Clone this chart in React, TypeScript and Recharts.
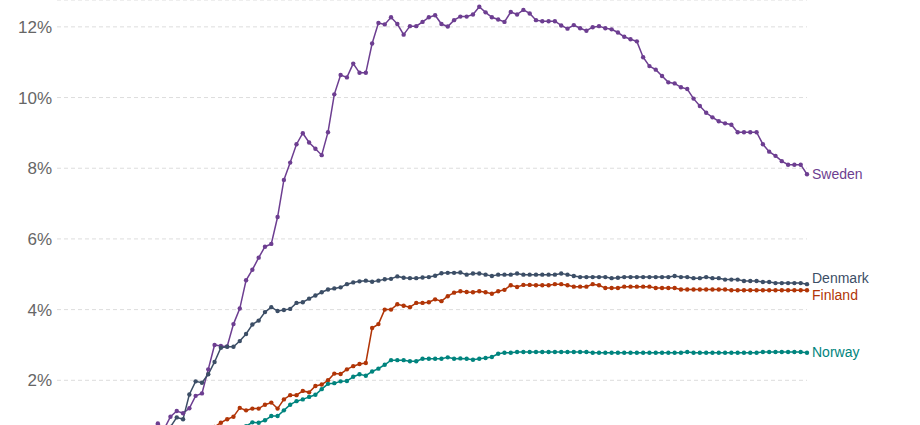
import React from "react";
import { LineChart, Line, XAxis, YAxis, CartesianGrid, LabelList } from "recharts";

// monthly share, 2010–2019 (x axis is cut off below the picture)
const years = [2010, 2011, 2012, 2013, 2014, 2015, 2016, 2017, 2018, 2019];
const monthNames = ["Jan", "Feb", "Mar", "Apr", "May", "Jun", "Jul", "Aug", "Sep", "Oct", "Nov", "Dec"];
const months = years.flatMap((y) => monthNames.map((m) => `${m} ${y}`));

const yTicks = [2, 4, 6, 8, 10, 12];

const sweden = [
  0.0, 0.0, 0.01, 0.01, 0.02, 0.03, 0.04, 0.06, 0.08, 0.11, 0.15, 0.2, 0.27, 0.36, 0.47, 0.6,
  0.78, 0.62, 0.97, 1.13, 1.07, 1.21, 1.56, 1.63, 2.31, 3.0, 2.97, 2.96, 3.59, 4.03, 4.83, 5.13, 5.47, 5.78, 5.86,
  6.62, 7.67, 8.16, 8.68, 8.99, 8.73, 8.55, 8.37, 9.02, 10.09, 10.64, 10.57, 10.96, 10.7, 10.7,
  11.53, 12.11, 12.07, 12.27, 12.08, 11.78, 12.02, 12.02, 12.14, 12.27, 12.33, 12.08, 12.01, 12.19, 12.29,
  12.29, 12.35, 12.57, 12.41, 12.27, 12.21, 12.14, 12.42, 12.35, 12.48, 12.38, 12.19, 12.16, 12.16, 12.16,
  12.04, 11.95, 12.05, 11.96, 11.89, 11.99, 12.02, 11.96, 11.93, 11.84, 11.72, 11.65, 11.59, 11.14, 10.89,
  10.79, 10.61, 10.43, 10.4, 10.29, 10.24, 9.97, 9.76, 9.57, 9.44, 9.33, 9.27, 9.23, 9.02, 9.02,
  9.02, 9.02, 8.68, 8.47, 8.35, 8.2, 8.1, 8.1, 8.1, 7.83,
];

const denmark = [
  0.0, 0.0, 0.01, 0.02, 0.03, 0.04, 0.06, 0.08, 0.1, 0.13, 0.17, 0.21, 0.26, 0.31, 0.37, 0.44, 0.52, 0.6,
  0.68, 0.95, 0.9, 1.6, 1.97, 1.93, 2.17, 2.52, 2.92, 2.95, 2.95, 3.11, 3.31, 3.58, 3.69, 3.93, 4.07,
  3.96, 3.99, 4.02, 4.19, 4.21, 4.31, 4.4, 4.49, 4.57, 4.6, 4.63, 4.72, 4.77, 4.8, 4.82,
  4.79, 4.82, 4.86, 4.87, 4.94, 4.9, 4.89, 4.89, 4.91, 4.92, 4.96, 5.03, 5.04, 5.04, 5.05,
  4.99, 5.02, 5.02, 4.99, 4.95, 4.99, 4.99, 4.99, 5.02, 4.99, 4.99, 4.99, 4.99, 4.99, 4.99,
  5.02, 4.99, 4.95, 4.92, 4.92, 4.92, 4.92, 4.92, 4.89, 4.9, 4.92, 4.92, 4.92, 4.92, 4.92,
  4.92, 4.92, 4.92, 4.95, 4.92, 4.92, 4.89, 4.89, 4.92, 4.89, 4.89, 4.85, 4.85, 4.85, 4.81,
  4.81, 4.81, 4.78, 4.78, 4.75, 4.75, 4.75, 4.75, 4.75, 4.72,
];

const finland = [
  0.0, 0.0, 0.0, 0.0, 0.01, 0.01, 0.02, 0.03, 0.04, 0.05, 0.07, 0.09, 0.11, 0.14, 0.17, 0.2, 0.24, 0.28,
  0.32, 0.36, 0.41, 0.46, 0.51, 0.56, 0.61, 0.68,
  0.8, 0.9, 0.97, 1.22, 1.15, 1.2, 1.2, 1.31, 1.37, 1.2, 1.46, 1.58, 1.58, 1.7, 1.66, 1.84, 1.88, 2.0,
  2.19, 2.18, 2.31, 2.4, 2.46, 2.49, 3.48, 3.59, 4.0, 4.0, 4.15, 4.11, 4.07, 4.19, 4.19, 4.21, 4.29, 4.24,
  4.38, 4.48, 4.52,
  4.5, 4.49, 4.52, 4.49, 4.45, 4.52, 4.56, 4.69, 4.64, 4.7, 4.7, 4.69, 4.69, 4.69, 4.72,
  4.72, 4.69, 4.65, 4.65, 4.65, 4.72, 4.69, 4.61, 4.61, 4.61, 4.65, 4.65, 4.65, 4.65, 4.65,
  4.61, 4.61, 4.61, 4.61, 4.57, 4.57, 4.57, 4.57, 4.57, 4.57, 4.57, 4.57, 4.55, 4.55, 4.55,
  4.55, 4.55, 4.55, 4.55, 4.55, 4.55, 4.55, 4.55, 4.55, 4.55,
];

const norway = [
  0.0, 0.0, 0.0, 0.0, 0.0, 0.0, 0.01, 0.01, 0.02, 0.03, 0.04, 0.05, 0.06, 0.08, 0.1, 0.12, 0.14, 0.17,
  0.2, 0.23, 0.26, 0.3, 0.34, 0.38, 0.42, 0.46, 0.5, 0.54, 0.59, 0.64, 0.7,
  0.81, 0.8, 0.87, 0.99, 0.99, 1.15, 1.31, 1.41, 1.46, 1.53, 1.59, 1.75, 1.9, 1.92, 1.97, 1.98, 2.1,
  2.17, 2.13, 2.25, 2.33, 2.44, 2.57, 2.57, 2.57, 2.54, 2.54, 2.61, 2.61, 2.61, 2.61, 2.65, 2.61, 2.62,
  2.61, 2.58, 2.61, 2.63, 2.66, 2.75, 2.78, 2.78, 2.8, 2.8, 2.8, 2.8, 2.8, 2.8, 2.8,
  2.8, 2.8, 2.8, 2.8, 2.8, 2.78, 2.78, 2.78, 2.78, 2.78, 2.78, 2.78, 2.78, 2.78, 2.78,
  2.78, 2.78, 2.78, 2.78, 2.78, 2.8, 2.78, 2.78, 2.78, 2.78, 2.78, 2.78, 2.78, 2.78, 2.78,
  2.78, 2.78, 2.8, 2.8, 2.8, 2.8, 2.8, 2.8, 2.8, 2.78,
];

const series = [
  { key: "Sweden", values: sweden, color: "#6D3E91", labelDy: 0 },
  { key: "Denmark", values: denmark, color: "#3C4E66", labelDy: -6 },
  { key: "Finland", values: finland, color: "#B13507", labelDy: 4.5 },
  { key: "Norway", values: norway, color: "#00847E", labelDy: -1 },
];

const data = months.map((m, i) => {
  const row: Record<string, string | number> = { month: m };
  series.forEach((s) => {
    row[s.key] = s.values[i];
  });
  return row;
});

const FONT = '"Liberation Sans", Arial, Helvetica, sans-serif';
const last = months.length - 1;

function endLabel(name: string, color: string, dy: number) {
  return (props: any) => {
    if (props.index !== last) return null;
    const x = props.x ?? props.viewBox?.x;
    const y = props.y ?? props.viewBox?.y;
    return (
      <text x={x + 5} y={y + dy} dy="0.35em" fill={color} fontSize={14} fontFamily={FONT}>
        {name}
      </text>
    );
  };
}

export default function App() {
  return (
    <div style={{ position: "absolute", top: 0, left: 0, fontFamily: FONT }}>
      <LineChart
        width={920}
        height={500}
        data={data}
        margin={{ top: 0, right: 113, left: 0, bottom: 49 }}
      >
        <CartesianGrid stroke="#dddddd" strokeDasharray="4 3" vertical={false} />
        <XAxis dataKey="month" hide />
        <YAxis
          width={57}
          domain={[0, 12.76]}
          ticks={yTicks}
          allowDataOverflow
          tickFormatter={(v) => `${v}%`}
          axisLine={false}
          tickLine={false}
          tickSize={0}
          tickMargin={5}
          tick={{ fill: "#666666", fontSize: 17, fontFamily: FONT }}
        />
        {series.map((s) => (
          <Line
            key={s.key}
            dataKey={s.key}
            stroke={s.color}
            strokeWidth={1.5}
            dot={{ r: 2.2, fill: s.color, stroke: "none" }}
            activeDot={false}
            isAnimationActive={false}
          >
            <LabelList dataKey={s.key} content={endLabel(s.key, s.color, s.labelDy)} />
          </Line>
        ))}
      </LineChart>
    </div>
  );
}
